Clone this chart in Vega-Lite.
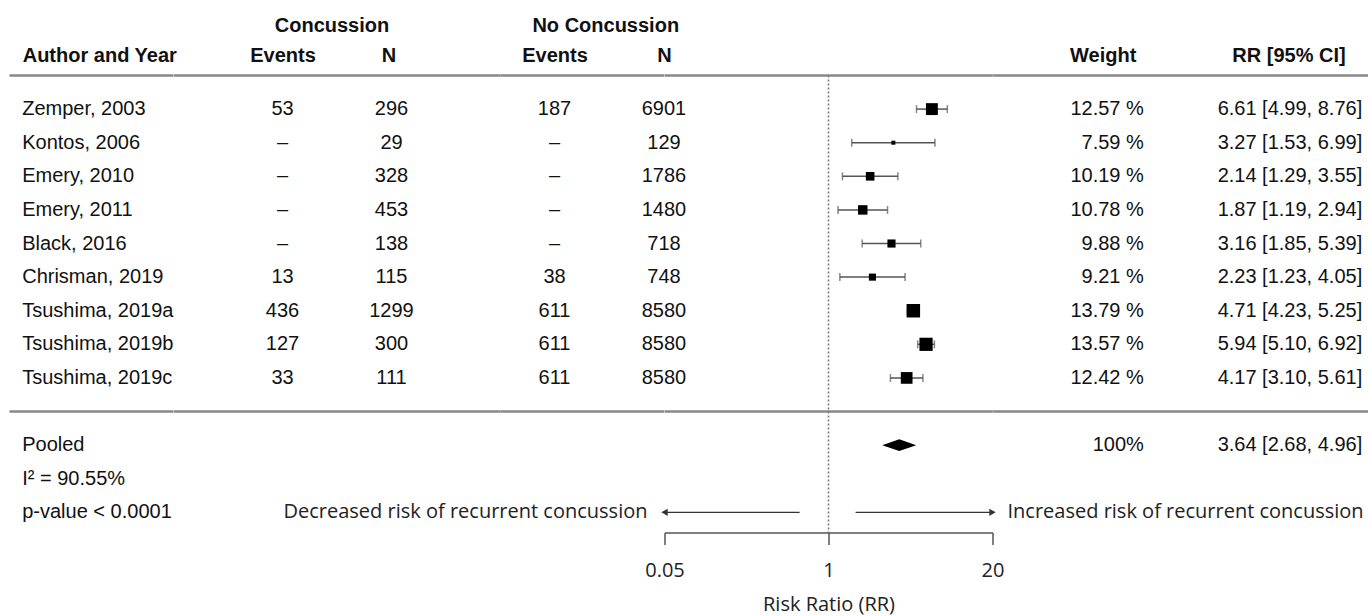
{
  "$schema": "https://vega.github.io/schema/vega-lite/v6.json",
  "background": "white",
  "padding": {"left": 7.5, "top": 15.5, "right": 0, "bottom": 2},
  "bounds": "flush",
  "spacing": 0,
  "resolve": {"scale": {"x": "independent", "y": "independent"}},
  "config": {"view": {"stroke": null}},
  "datasets": {
    "studies": [
      {"study": "Zemper, 2003", "ev_c": "53", "n_c": 296, "ev_n": "187", "n_n": 6901, "rr": 6.61, "lo": 4.99, "hi": 8.76, "weight": 12.57, "wlabel": "12.57 %", "ci": "6.61 [4.99, 8.76]"},
      {"study": "Kontos, 2006", "ev_c": "–", "n_c": 29, "ev_n": "–", "n_n": 129, "rr": 3.27, "lo": 1.53, "hi": 6.99, "weight": 7.59, "wlabel": "7.59 %", "ci": "3.27 [1.53, 6.99]"},
      {"study": "Emery, 2010", "ev_c": "–", "n_c": 328, "ev_n": "–", "n_n": 1786, "rr": 2.14, "lo": 1.29, "hi": 3.55, "weight": 10.19, "wlabel": "10.19 %", "ci": "2.14 [1.29, 3.55]"},
      {"study": "Emery, 2011", "ev_c": "–", "n_c": 453, "ev_n": "–", "n_n": 1480, "rr": 1.87, "lo": 1.19, "hi": 2.94, "weight": 10.78, "wlabel": "10.78 %", "ci": "1.87 [1.19, 2.94]"},
      {"study": "Black, 2016", "ev_c": "–", "n_c": 138, "ev_n": "–", "n_n": 718, "rr": 3.16, "lo": 1.85, "hi": 5.39, "weight": 9.88, "wlabel": "9.88 %", "ci": "3.16 [1.85, 5.39]"},
      {"study": "Chrisman, 2019", "ev_c": "13", "n_c": 115, "ev_n": "38", "n_n": 748, "rr": 2.23, "lo": 1.23, "hi": 4.05, "weight": 9.21, "wlabel": "9.21 %", "ci": "2.23 [1.23, 4.05]"},
      {"study": "Tsushima, 2019a", "ev_c": "436", "n_c": 1299, "ev_n": "611", "n_n": 8580, "rr": 4.71, "lo": 4.23, "hi": 5.25, "weight": 13.79, "wlabel": "13.79 %", "ci": "4.71 [4.23, 5.25]"},
      {"study": "Tsushima, 2019b", "ev_c": "127", "n_c": 300, "ev_n": "611", "n_n": 8580, "rr": 5.94, "lo": 5.10, "hi": 6.92, "weight": 13.57, "wlabel": "13.57 %", "ci": "5.94 [5.10, 6.92]"},
      {"study": "Tsushima, 2019c", "ev_c": "33", "n_c": 111, "ev_n": "611", "n_n": 8580, "rr": 4.17, "lo": 3.10, "hi": 5.61, "weight": 12.42, "wlabel": "12.42 %", "ci": "4.17 [3.10, 5.61]"}
    ],
    "pooled": [
      {"key": "Pooled", "rr": 3.64, "lo": 2.68, "hi": 4.96, "wlabel": "100%", "ci": "3.64 [2.68, 4.96]"}
    ],
    "notes": [
      {"key": "Pooled", "label": "Pooled"},
      {"key": "I2", "label": "I² = 90.55%"},
      {"key": "p", "label": "p-value < 0.0001"}
    ],
    "lines": [{"key": "top"}, {"key": "gap"}],
    "nullEffect": [{"rr": 1}],
    "arrows": [
      {"side": "left", "from": 0.59, "to": 0.05, "label": "Decreased risk of recurrent concussion"},
      {"side": "right", "from": 1.64, "to": 20, "label": "Increased risk of recurrent concussion"}
    ]
  },
  "hconcat": [
    {
      "width": 163.5,
      "height": 457,
      "layer": [
        {
          "data": {"name": "lines"},
          "mark": {"type": "rule", "color": "#888", "strokeWidth": 2.5},
          "encoding": {"y": {"field": "key", "type": "nominal", "axis": null, "scale": {"type": "point", "domain": ["top", "Zemper, 2003", "Kontos, 2006", "Emery, 2010", "Emery, 2011", "Black, 2016", "Chrisman, 2019", "Tsushima, 2019a", "Tsushima, 2019b", "Tsushima, 2019c", "gap", "Pooled", "I2", "p"], "padding": 0.3, "align": 0, "round": false}}}
        },
        {
          "data": {"name": "studies"},
          "mark": {"type": "text", "align": "left", "baseline": "middle", "fontSize": 20, "font": "Liberation Sans", "color": "#111"},
          "encoding": {
            "x": {"datum": "Author and Year", "type": "nominal", "scale": {"type": "point", "domain": ["Author and Year"], "align": 0.0777, "round": false}, "axis": {"orient": "top", "domain": false, "ticks": false, "tickSize": 0, "labelPadding": 10, "labelFontSize": 20, "labelFont": "Liberation Sans", "labelFontWeight": "bold", "labelColor": "#111", "labelAngle": 0, "labelAlign": "left", "title": null, "grid": false}},
            "y": {"field": "study", "type": "nominal", "axis": null},
            "text": {"field": "study", "type": "nominal"}
          }
        },
        {
          "data": {"name": "notes"},
          "mark": {"type": "text", "align": "left", "baseline": "middle", "fontSize": 20, "font": "Liberation Sans", "color": "#111"},
          "encoding": {
            "x": {"datum": "Author and Year", "type": "nominal"},
            "y": {"field": "key", "type": "nominal", "axis": null},
            "text": {"field": "label", "type": "nominal"}
          }
        }
      ]
    },
    {
      "width": 327,
      "height": 457,
      "title": {"text": "Concussion", "frame": "group", "anchor": "middle", "fontSize": 20, "font": "Liberation Sans", "fontWeight": "bold", "color": "#111", "dx": -5, "offset": 10},
      "layer": [
        {
          "data": {"name": "lines"},
          "mark": {"type": "rule", "color": "#888", "strokeWidth": 2.5},
          "encoding": {"y": {"field": "key", "type": "nominal", "axis": null, "scale": {"type": "point", "domain": ["top", "Zemper, 2003", "Kontos, 2006", "Emery, 2010", "Emery, 2011", "Black, 2016", "Chrisman, 2019", "Tsushima, 2019a", "Tsushima, 2019b", "Tsushima, 2019c", "gap", "Pooled", "I2", "p"], "padding": 0.3, "align": 0, "round": false}}}
        },
        {
          "data": {"name": "studies"},
          "mark": {"type": "text", "align": "center", "baseline": "middle", "fontSize": 20, "font": "Liberation Sans", "color": "#111"},
          "encoding": {
            "x": {"datum": "Events", "type": "nominal", "scale": {"type": "point", "domain": ["Events", "N"], "padding": 1, "round": false}, "axis": {"orient": "top", "domain": false, "ticks": false, "tickSize": 0, "labelPadding": 10, "labelFontSize": 20, "labelFont": "Liberation Sans", "labelFontWeight": "bold", "labelColor": "#111", "labelAngle": 0, "labelAlign": "center", "labelOffset": {"condition": {"test": "datum.value == 'N'", "value": -3}, "value": 0}, "title": null, "grid": false}},
            "y": {"field": "study", "type": "nominal", "axis": null},
            "text": {"field": "ev_c", "type": "nominal"}
          }
        },
        {
          "data": {"name": "studies"},
          "mark": {"type": "text", "align": "center", "baseline": "middle", "fontSize": 20, "font": "Liberation Sans", "color": "#111"},
          "encoding": {
            "x": {"datum": "N", "type": "nominal"},
            "y": {"field": "study", "type": "nominal", "axis": null},
            "text": {"field": "n_c", "type": "quantitative", "format": "d"}
          }
        }
      ]
    },
    {
      "width": 163.5,
      "height": 457,
      "title": {"text": "No Concussion", "frame": "group", "anchor": "middle", "fontSize": 20, "font": "Liberation Sans", "fontWeight": "bold", "color": "#111", "dx": 23.5, "offset": 10},
      "layer": [
        {
          "data": {"name": "lines"},
          "mark": {"type": "rule", "color": "#888", "strokeWidth": 2.5},
          "encoding": {"y": {"field": "key", "type": "nominal", "axis": null, "scale": {"type": "point", "domain": ["top", "Zemper, 2003", "Kontos, 2006", "Emery, 2010", "Emery, 2011", "Black, 2016", "Chrisman, 2019", "Tsushima, 2019a", "Tsushima, 2019b", "Tsushima, 2019c", "gap", "Pooled", "I2", "p"], "padding": 0.3, "align": 0, "round": false}}}
        },
        {
          "data": {"name": "studies"},
          "mark": {"type": "text", "align": "center", "baseline": "middle", "fontSize": 20, "font": "Liberation Sans", "color": "#111"},
          "encoding": {
            "x": {"datum": "Events", "type": "nominal", "scale": {"type": "point", "domain": ["Events", "N"], "padding": 0.2466, "align": 1, "round": false}, "axis": {"orient": "top", "domain": false, "ticks": false, "tickSize": 0, "labelPadding": 10, "labelFontSize": 20, "labelFont": "Liberation Sans", "labelFontWeight": "bold", "labelColor": "#111", "labelAngle": 0, "labelAlign": "center", "title": null, "grid": false}},
            "y": {"field": "study", "type": "nominal", "axis": null},
            "text": {"field": "ev_n", "type": "nominal"}
          }
        },
        {
          "data": {"name": "studies"},
          "mark": {"type": "text", "align": "center", "baseline": "middle", "fontSize": 20, "font": "Liberation Sans", "color": "#111"},
          "encoding": {
            "x": {"datum": "N", "type": "nominal"},
            "y": {"field": "study", "type": "nominal", "axis": null},
            "text": {"field": "n_n", "type": "quantitative", "format": "d"}
          }
        }
      ]
    },
    {
      "width": 328,
      "height": 457,
      "layer": [
        {
          "data": {"name": "lines"},
          "mark": {"type": "rule", "color": "#888", "strokeWidth": 2.5},
          "encoding": {"y": {"field": "key", "type": "nominal", "axis": null, "scale": {"type": "point", "domain": ["top", "Zemper, 2003", "Kontos, 2006", "Emery, 2010", "Emery, 2011", "Black, 2016", "Chrisman, 2019", "Tsushima, 2019a", "Tsushima, 2019b", "Tsushima, 2019c", "gap", "Pooled", "I2", "p"], "padding": 0.3, "align": 0, "round": false}}}
        },
        {
          "data": {"name": "nullEffect"},
          "mark": {"type": "rule", "color": "#777", "strokeWidth": 1.5, "strokeDash": [2, 2]},
          "encoding": {
            "x": {"field": "rr", "type": "quantitative", "scale": {"type": "log", "domain": [0.05, 20], "nice": false, "zero": false}, "axis": {"orient": "bottom", "values": [0.05, 1, 20], "format": "~g", "domain": true, "domainColor": "#555", "domainWidth": 1.5, "ticks": true, "tickColor": "#555", "tickWidth": 1.5, "tickSize": 12, "labelFont": "Open Sans", "labelFontSize": 20, "labelColor": "#222", "labelPadding": 16, "labelFlush": false, "labelOverlap": false, "title": "Risk Ratio (RR)", "titleFont": "Open Sans", "titleFontSize": 20, "titleFontWeight": "normal", "titleColor": "#222", "titlePadding": 14, "grid": false}}
          }
        },
        {
          "data": {"name": "studies"},
          "mark": {"type": "rule", "color": "#555", "strokeWidth": 1.5},
          "encoding": {
            "x": {"field": "lo", "type": "quantitative"},
            "x2": {"field": "hi"},
            "y": {"field": "study", "type": "nominal", "axis": null}
          }
        },
        {
          "data": {"name": "studies"},
          "mark": {"type": "tick", "orient": "vertical", "color": "#555", "thickness": 1.5, "size": 8},
          "encoding": {
            "x": {"field": "lo", "type": "quantitative"},
            "y": {"field": "study", "type": "nominal", "axis": null}
          }
        },
        {
          "data": {"name": "studies"},
          "mark": {"type": "tick", "orient": "vertical", "color": "#555", "thickness": 1.5, "size": 8},
          "encoding": {
            "x": {"field": "hi", "type": "quantitative"},
            "y": {"field": "study", "type": "nominal", "axis": null}
          }
        },
        {
          "data": {"name": "studies"},
          "mark": {"type": "point", "shape": "square", "filled": true, "color": "#000", "opacity": 1},
          "encoding": {
            "x": {"field": "rr", "type": "quantitative"},
            "y": {"field": "study", "type": "nominal", "axis": null},
            "size": {"field": "weight", "type": "quantitative", "legend": null, "scale": {"type": "pow", "exponent": 2, "domain": [7.59, 13.79], "range": [16, 182], "zero": false}}
          }
        },
        {
          "data": {"name": "pooled"},
          "mark": {"type": "point", "shape": "M-1,0L0,-0.35L1,0L0,0.35Z", "filled": true, "color": "#000", "opacity": 1, "size": 1156},
          "encoding": {
            "x": {"field": "rr", "type": "quantitative"},
            "y": {"field": "key", "type": "nominal", "axis": null}
          }
        },
        {
          "data": {"name": "arrows"},
          "mark": {"type": "rule", "color": "#333", "strokeWidth": 1.3},
          "encoding": {
            "x": {"field": "from", "type": "quantitative"},
            "x2": {"field": "to"},
            "y": {"datum": "p", "type": "nominal", "axis": null}
          }
        },
        {
          "data": {"name": "arrows"},
          "mark": {"type": "point", "filled": true, "color": "#333", "opacity": 1, "size": 55},
          "encoding": {
            "x": {"field": "to", "type": "quantitative"},
            "y": {"datum": "p", "type": "nominal", "axis": null},
            "shape": {"field": "side", "type": "nominal", "legend": null, "scale": {"domain": ["left", "right"], "range": ["triangle-left", "triangle-right"]}}
          }
        },
        {
          "data": {"name": "arrows"},
          "transform": [{"filter": "datum.side == 'left'"}],
          "mark": {"type": "text", "align": "right", "baseline": "middle", "dx": -17, "fontSize": 20, "font": "Open Sans", "color": "#222"},
          "encoding": {
            "x": {"field": "to", "type": "quantitative"},
            "y": {"datum": "p", "type": "nominal", "axis": null},
            "text": {"field": "label", "type": "nominal"}
          }
        },
        {
          "data": {"name": "arrows"},
          "transform": [{"filter": "datum.side == 'right'"}],
          "mark": {"type": "text", "align": "left", "baseline": "middle", "dx": 15, "fontSize": 20, "font": "Open Sans", "color": "#222"},
          "encoding": {
            "x": {"field": "to", "type": "quantitative"},
            "y": {"datum": "p", "type": "nominal", "axis": null},
            "text": {"field": "label", "type": "nominal"}
          }
        }
      ]
    },
    {
      "width": 376,
      "height": 457,
      "layer": [
        {
          "data": {"name": "lines"},
          "mark": {"type": "rule", "color": "#888", "strokeWidth": 2.5},
          "encoding": {"y": {"field": "key", "type": "nominal", "axis": null, "scale": {"type": "point", "domain": ["top", "Zemper, 2003", "Kontos, 2006", "Emery, 2010", "Emery, 2011", "Black, 2016", "Chrisman, 2019", "Tsushima, 2019a", "Tsushima, 2019b", "Tsushima, 2019c", "gap", "Pooled", "I2", "p"], "padding": 0.3, "align": 0, "round": false}}}
        },
        {
          "data": {"name": "studies"},
          "mark": {"type": "text", "align": "right", "baseline": "middle", "fontSize": 20, "font": "Liberation Sans", "color": "#111"},
          "encoding": {
            "x": {"datum": "Weight", "type": "nominal", "scale": {"type": "point", "domain": ["Weight", "RR [95% CI]"], "padding": 0.3608, "align": 0.96, "round": false}, "axis": {"orient": "top", "domain": false, "ticks": false, "tickSize": 0, "labelPadding": 10, "labelFontSize": 20, "labelFont": "Liberation Sans", "labelFontWeight": "bold", "labelColor": "#111", "labelAngle": 0, "labelAlign": "right", "labelOffset": {"condition": {"test": "datum.value == 'Weight'", "value": -8}, "value": -17}, "title": null, "grid": false}},
            "y": {"field": "study", "type": "nominal", "axis": null},
            "text": {"field": "wlabel", "type": "nominal"}
          }
        },
        {
          "data": {"name": "studies"},
          "mark": {"type": "text", "align": "right", "baseline": "middle", "fontSize": 20, "font": "Liberation Sans", "color": "#111"},
          "encoding": {
            "x": {"datum": "RR [95% CI]", "type": "nominal"},
            "y": {"field": "study", "type": "nominal", "axis": null},
            "text": {"field": "ci", "type": "nominal"}
          }
        },
        {
          "data": {"name": "pooled"},
          "mark": {"type": "text", "align": "right", "baseline": "middle", "fontSize": 20, "font": "Liberation Sans", "color": "#111"},
          "encoding": {
            "x": {"datum": "Weight", "type": "nominal"},
            "y": {"field": "key", "type": "nominal", "axis": null},
            "text": {"field": "wlabel", "type": "nominal"}
          }
        },
        {
          "data": {"name": "pooled"},
          "mark": {"type": "text", "align": "right", "baseline": "middle", "fontSize": 20, "font": "Liberation Sans", "color": "#111"},
          "encoding": {
            "x": {"datum": "RR [95% CI]", "type": "nominal"},
            "y": {"field": "key", "type": "nominal", "axis": null},
            "text": {"field": "ci", "type": "nominal"}
          }
        }
      ]
    }
  ]
}
